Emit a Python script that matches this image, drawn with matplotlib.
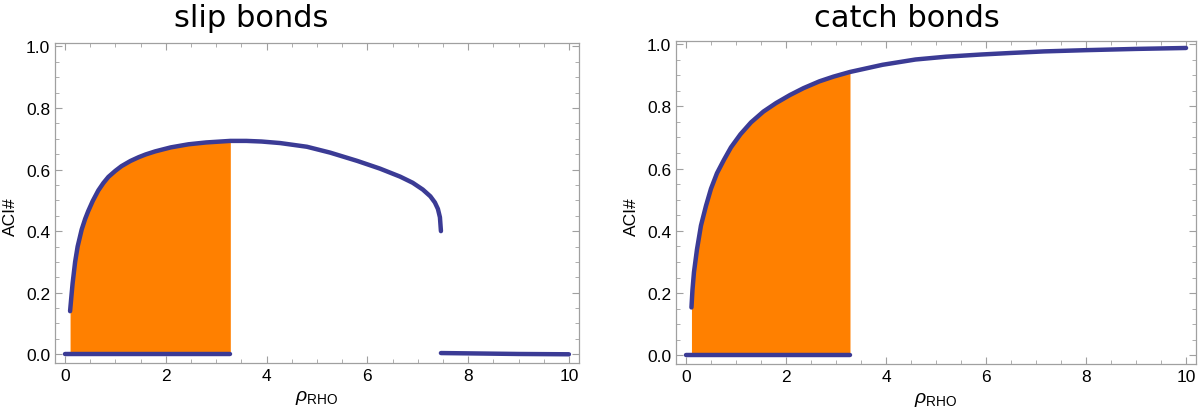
import numpy as np
import matplotlib.pyplot as plt
from matplotlib.ticker import MultipleLocator

# Données lues sur la figure
# slip bonds : branche haute
slip_x = [0.10, 0.13, 0.15, 0.20, 0.25, 0.33, 0.40, 0.46, 0.55, 0.66, 0.76, 0.86,
          1.00, 1.12, 1.30, 1.46, 1.60, 1.79, 2.10, 2.45, 2.80, 3.28, 3.60, 3.90,
          4.27, 4.80, 5.26, 5.80, 6.25, 6.65, 6.90, 7.10, 7.25, 7.34, 7.40, 7.44, 7.46]
slip_y = [0.140, 0.195, 0.230, 0.300, 0.350, 0.405, 0.440, 0.465, 0.498, 0.532, 0.556, 0.576,
          0.596, 0.611, 0.628, 0.640, 0.649, 0.659, 0.672, 0.682, 0.688, 0.693, 0.693, 0.691,
          0.686, 0.674, 0.655, 0.628, 0.603, 0.577, 0.557, 0.535, 0.513, 0.493, 0.472, 0.445, 0.400]
# slip bonds : branche basse après le saut
slip_tail_x = [7.46, 8.0, 8.5, 9.0, 10.0]
slip_tail_y = [0.004, 0.003, 0.002, 0.001, 0.0]

# catch bonds
catch_x = [0.11, 0.13, 0.16, 0.22, 0.30, 0.40, 0.50, 0.62, 0.76, 0.90, 1.09, 1.30,
           1.55, 1.80, 2.08, 2.35, 2.67, 2.95, 3.28, 3.93, 4.59, 5.20, 5.90, 6.50,
           7.16, 8.00, 9.00, 10.0]
catch_y = [0.154, 0.210, 0.267, 0.340, 0.417, 0.480, 0.535, 0.585, 0.628, 0.668, 0.710, 0.748,
           0.783, 0.810, 0.836, 0.858, 0.880, 0.895, 0.910, 0.933, 0.950, 0.959, 0.966, 0.971,
           0.976, 0.980, 0.984, 0.987]

# branche nulle
zero_x = [0.0, 3.28]
zero_y = [0.0, 0.0]
x_cut = 3.28

titles = ["slip bonds", "catch bonds"]

line_col = "#3b3b95"
fill_col = "#ff8000"
frame_col = "#a0a0a0"

plt.rcParams["font.family"] = ["Liberation Sans", "DejaVu Sans"]
plt.rcParams["mathtext.fontset"] = "custom"
plt.rcParams["mathtext.rm"] = "Liberation Sans"
plt.rcParams["mathtext.it"] = "Liberation Sans:italic"

fig = plt.figure(figsize=(12, 4.14), dpi=100)
ax1 = fig.add_axes([0.0458, 0.121, 0.4367, 0.772])
ax2 = fig.add_axes([0.5633, 0.118, 0.4334, 0.781])

curves = [
    (slip_x, slip_y, [(slip_tail_x, slip_tail_y)]),
    (catch_x, catch_y, []),
]

for ax, (cx, cy, extra) in zip([ax1, ax2], curves):
    cx = np.array(cx)
    cy = np.array(cy)
    m = cx <= x_cut + 1e-9
    ax.fill_between(cx[m], 0, cy[m], color=fill_col, lw=0, zorder=1)
    ax.plot(cx, cy, color=line_col, lw=3.2, solid_capstyle="round",
            solid_joinstyle="round", zorder=3)
    ax.plot(zero_x, zero_y, color=line_col, lw=3.2, solid_capstyle="round", zorder=3)
    for ex, ey in extra:
        ax.plot(ex, ey, color=line_col, lw=3.2, solid_capstyle="round", zorder=3)

    ax.set_xlim(-0.2, 10.2)
    ax.set_ylim(-0.028, 1.01)
    ax.xaxis.set_major_locator(MultipleLocator(2))
    ax.xaxis.set_minor_locator(MultipleLocator(0.5))
    ax.yaxis.set_major_locator(MultipleLocator(0.2))
    ax.yaxis.set_minor_locator(MultipleLocator(0.05))
    ax.yaxis.set_major_formatter(plt.FormatStrFormatter("%.1f"))
    ax.tick_params(which="both", direction="in", top=True, right=True,
                   color=frame_col, labelsize=12.5)
    ax.tick_params(which="major", length=5, width=0.8)
    ax.tick_params(which="minor", length=3, width=0.6)
    for s in ax.spines.values():
        s.set_color(frame_col)
        s.set_linewidth(0.9)

    ax.set_xlabel(r"$\rho_{\mathrm{RHO}}$", fontsize=14, labelpad=4)
    ax.set_ylabel("ACI#", fontsize=12.5, labelpad=6)
    ax.yaxis.label.set_y(0.46)

fig.text(0.209, 0.935, titles[0], ha="center", va="baseline", fontsize=22, family="DejaVu Sans")
fig.text(0.756, 0.935, titles[1], ha="center", va="baseline", fontsize=22, family="DejaVu Sans")

fig.savefig("out.png", dpi=100)
